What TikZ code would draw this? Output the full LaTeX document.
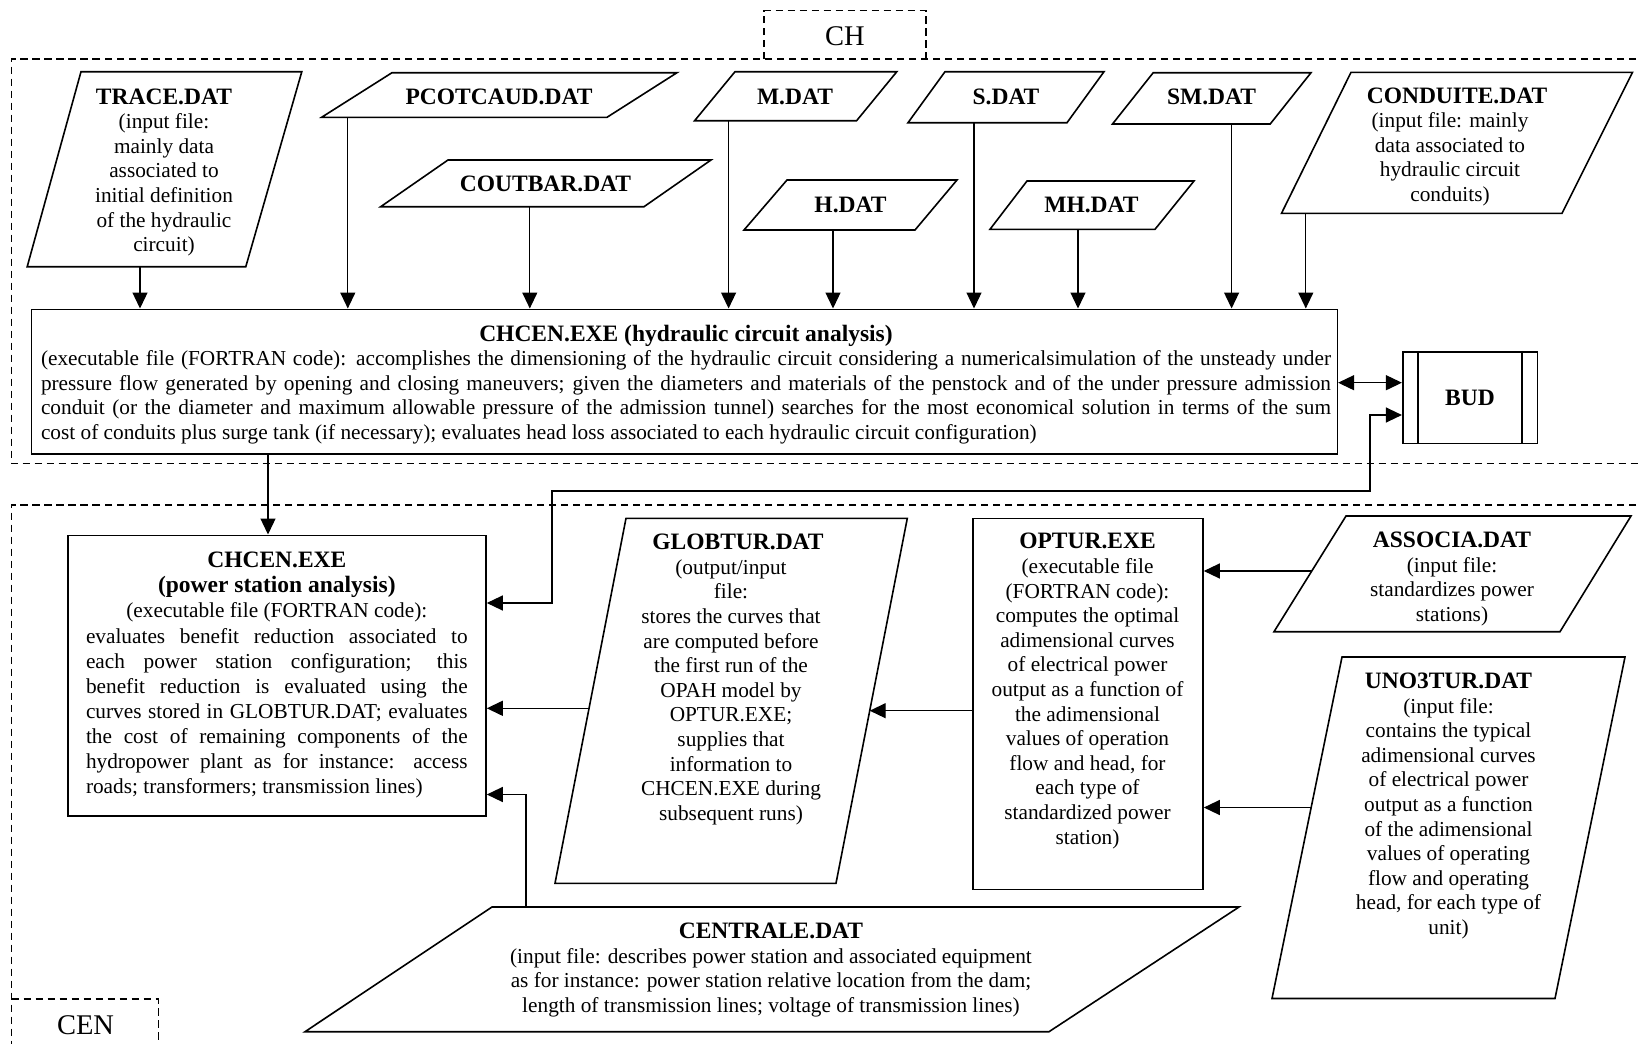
\documentclass[tikz,border=0pt]{standalone}
\usepackage{fontspec}
\setmainfont{Liberation Serif}
\usetikzlibrary{arrows.meta,calc}
\newlength\jw
\newcommand\mytitle[1]{{\fontsize{23.5}{24.6}\selectfont\bfseries #1}}
\newcommand\jline[1]{\makebox[\jw][s]{#1}}
\newcommand\lline[1]{\makebox[\jw][l]{#1}}
\newcommand\pgram[6]{\draw[boxl] (#1,#2) -- (#3,#2) -- (#4,#5) -- (#6,#5) -- cycle;}
\tikzset{
  boxl/.style={draw, line width=1.6pt, line join=miter},
  rbox/.style={draw, line width=1.6pt, rectangle, inner sep=0pt},
  txt/.style={align=center, inner sep=0pt, font=\fontsize{21.3}{24.6}\selectfont},
  lbl/.style={inner sep=0pt, font=\fontsize{23.5}{24.6}\selectfont\bfseries},
  arr/.style={line width=1.3pt, -{Triangle[length=16pt,width=15pt]}},
  arr2/.style={line width=1.3pt, {Triangle[length=16pt,width=15pt]}-{Triangle[length=16pt,width=15pt]}},
  dsh/.style={line width=1.4pt, dash pattern=on 7.5pt off 4.5pt},
  big/.style={inner sep=0pt, font=\fontsize{28.5}{30}\selectfont}
}
\begin{document}
\begin{tikzpicture}[x=1pt,y=-1pt]
\useasboundingbox[fill=white] (0,0) rectangle (1639,1044);
\clip (0,0) rectangle (1639,1044);

% ---------- dashed group frames ----------
\draw[dsh] (1660,59) -- (11.5,59) -- (11.5,463.5) -- (1660,463.5);
\draw[dsh] (764,59) -- (764,10.7) -- (926,10.7) -- (926,59);
\node[big] (chl) at (845,36.5) {CH};
\draw[dsh] (1660,505) -- (11.5,505) -- (11.5,1060);
\draw[dsh] (11.5,999) -- (158.5,999) -- (158.5,1060);
\node[big] (cenl) at (85.5,1025.5) {CEN};

% ---------- top input files ----------
\pgram{81}{71.7}{301.8}{245.8}{266.7}{27.2}
\node[txt] (tracet) at (164,172.4) {\mytitle{TRACE.DAT}\\(input file:\\mainly data\\associated to\\initial definition\\of the hydraulic\\circuit)};
\pgram{392}{72.7}{677}{607}{117.3}{321.6}
\node[lbl] (pcot) at (499,96.7) {PCOTCAUD.DAT};
\pgram{448}{160}{711}{644}{206.7}{380.7}
\node[lbl] (cout) at (545.5,184.3) {COUTBAR.DAT};
\pgram{735}{71.7}{896.8}{856.6}{120.7}{694.6}
\node[lbl] (mdat) at (795,96.5) {M.DAT};
\pgram{787}{180}{957}{915}{230}{744}
\node[lbl] (hdat) at (850.5,205) {H.DAT};
\pgram{945}{71.7}{1104}{1067}{122.7}{908}
\node[lbl] (sdat) at (1006,96.7) {S.DAT};
\pgram{1027}{181}{1194}{1155}{229.3}{990}
\node[lbl] (mhdat) at (1091.5,204.5) {MH.DAT};
\pgram{1153.2}{72.7}{1311}{1270.2}{124}{1112.5}
\node[lbl] (smdat) at (1211.5,97) {SM.DAT};
\pgram{1351}{72.3}{1632.5}{1562}{213.3}{1281.5}
\node[txt] (condt) at (1450,146.8) {\mytitle{\hspace*{14pt}CONDUITE.DAT}\\(input file: mainly\\data associated to\\hydraulic circuit\\conduits)};

% ---------- hydraulic circuit analysis ----------
\node[rbox, minimum width=1305.9pt, minimum height=144.7pt] (hyd) at (684.35,381.65) {};
\node[txt, font={\fontsize{21.3}{24.6}\selectfont\setlength\jw{1290pt}}] (hydt) at (686,384.5) {\mytitle{CHCEN.EXE (hydraulic circuit analysis)}\\
\jline{(executable file (FORTRAN code): accomplishes the dimensioning of the hydraulic circuit considering a numericalsimulation of the unsteady under}\\
\jline{pressure flow generated by opening and closing maneuvers; given the diameters and materials of the penstock and of the under pressure admission}\\
\jline{conduit (or the diameter and maximum allowable pressure of the admission tunnel) searches for the most economical solution in terms of the sum}\\
\lline{cost of conduits plus surge tank (if necessary); evaluates head loss associated to each hydraulic circuit configuration)}};

% ---------- BUD ----------
\node[rbox, minimum width=134.6pt, minimum height=91.6pt, font=\fontsize{23.5}{24.6}\selectfont\bfseries] (bud) at (1470,397.5) {BUD};
\draw[line width=1.6pt] ([xshift=16.3pt]bud.north west) -- ([xshift=16.3pt]bud.south west);
\draw[line width=1.6pt] ([xshift=-16.3pt]bud.north east) -- ([xshift=-16.3pt]bud.south east);

% ---------- power station analysis ----------
\node[rbox, minimum width=418.3pt, minimum height=280.7pt] (pw) at (276.85,675.65) {};
\node[txt, font={\fontsize{21.3}{25.1}\selectfont\setlength\jw{381.7pt}}] (pwt) at (276.85,675.2) {\mytitle{CHCEN.EXE}\\\mytitle{(power station analysis)}\\(executable file (FORTRAN code):\\
\jline{evaluates benefit reduction associated to}\\
\jline{each power station configuration; this}\\
\jline{benefit reduction is evaluated using the}\\
\jline{curves stored in GLOBTUR.DAT; evaluates}\\
\jline{the cost of remaining components of the}\\
\jline{hydropower plant as for instance: access}\\
\lline{roads; transformers; transmission lines)}};

% ---------- GLOBTUR ----------
\pgram{626}{518.3}{907.3}{836}{883.3}{555}
\node[txt] (globt) at (731,679.5) {\mytitle{\hspace*{14pt}GLOBTUR.DAT}\\(output/input\\file:\\stores the curves that\\are computed before\\the first run of the\\OPAH model by\\OPTUR.EXE;\\supplies that\\information to\\CHCEN.EXE during\\subsequent runs)};

% ---------- OPTUR ----------
\node[rbox, minimum width=230pt, minimum height=371pt] (optur) at (1088,704) {};
\node[txt] (optt) at (1087.5,691) {\mytitle{OPTUR.EXE}\\(executable file\\(FORTRAN code):\\computes the optimal\\adimensional curves\\of electrical power\\output as a function of\\the adimensional\\values of operation\\flow and head, for\\each type of\\standardized power\\station)};

% ---------- ASSOCIA / UNO3TUR ----------
\pgram{1346}{516}{1631}{1560}{631.7}{1274}
\node[txt] (assot) at (1452,579) {\mytitle{ASSOCIA.DAT}\\(input file:\\standardizes power\\stations)};
\pgram{1342}{657}{1625}{1555}{998.5}{1272}
\node[txt] (unot) at (1448.5,806) {\mytitle{UNO3TUR.DAT}\\(input file:\\contains the typical\\adimensional curves\\of electrical power\\output as a function\\of the adimensional\\values of operating\\flow and operating\\head, for each type of\\unit)};

% ---------- CENTRALE ----------
\pgram{492}{907}{1239}{1049}{1031.7}{305}
\node[txt] (cent) at (771,970) {\mytitle{CENTRALE.DAT}\\(input file: describes power station and associated equipment\\as for instance: power station relative location from the dam;\\length of transmission lines; voltage of transmission lines)};

% ---------- connectors ----------
\coordinate (a1) at (140,266.7);
\coordinate (a2) at (347.8,117.3);
\coordinate (a3) at (529.8,206.7);
\coordinate (a4) at (728.6,120.7);
\coordinate (a5) at (833,230);
\coordinate (a6) at (974,122.7);
\coordinate (a7) at (1078,229.3);
\coordinate (a8) at (1231.6,124);
\coordinate (a9) at (1305.8,213.3);
\foreach \c in {a1,a2,a3,a4,a5,a6,a7,a8,a9}
  \draw[arr] (\c) -- (\c |- hyd.north);

\coordinate (p0) at (268,454);
\draw[arr] (hyd.south -| p0) -- (pw.north -| p0);

\coordinate (yb) at (1370,382.7);
\draw[arr2] (hyd.east |- yb) -- (bud.west |- yb);

\coordinate (k1) at (1370,415);
\coordinate (k2) at (552,491);
\coordinate (k3) at (552,603);
\draw[arr2] (bud.west |- k1) -- (k1) |- (k2) -- (k3) -- (k3 -| pw.east);

\coordinate (g1) at (589,708.3);
\draw[arr] (g1) -- (g1 -| pw.east);
\coordinate (g2) at (869.7,710.7);
\draw[arr] (optur.west |- g2) -- (g2);

\coordinate (c1) at (526,907);
\coordinate (c2) at (526,794.5);
\draw[arr] (c1) -- (c2) -- (c2 -| pw.east);

\coordinate (s1) at (1312,571);
\draw[arr] (s1) -- (s1 -| optur.east);
\coordinate (u1) at (1311,807.5);
\draw[arr] (u1) -- (u1 -| optur.east);
\end{tikzpicture}
\end{document}
